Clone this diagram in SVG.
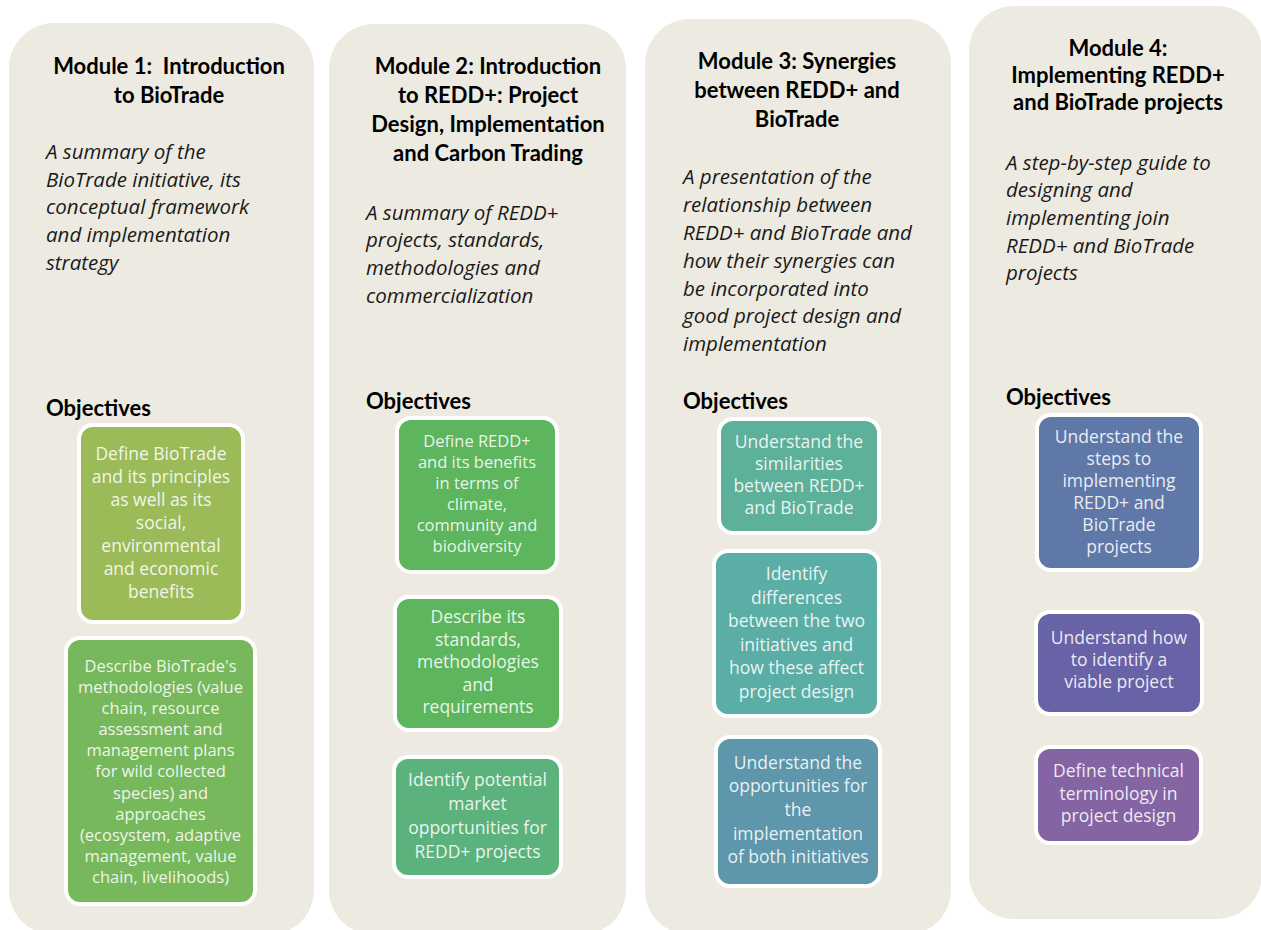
<svg xmlns="http://www.w3.org/2000/svg" width="1261" height="930" viewBox="0 0 1261 930">
<style>
.panel{fill:#EDEBE1;}
.title{font-family:Lato,"Liberation Sans",sans-serif;font-weight:bold;font-size:22px;fill:#000;text-anchor:middle;white-space:pre;}
.desc{font-family:"Open Sans","Liberation Sans",sans-serif;font-style:italic;font-size:20.5px;fill:#1a1a1a;}
.obj{font-family:Lato,"Liberation Sans",sans-serif;font-weight:bold;font-size:22px;fill:#000;}
.box{stroke:#FFFFFF;stroke-width:4;}
.bt{font-family:"Open Sans","Liberation Sans",sans-serif;font-size:17.5px;fill:#FFFFFF;fill-opacity:0.88;text-anchor:middle;}
.sm{font-size:16.5px;}
</style>
<rect width="1261" height="930" fill="#FFFFFF"/>

<g id="module1">
<rect class="panel" x="9" y="23" width="305" height="912" rx="45"/>
<text class="title" x="169" y="74">Module 1:  Introduction</text>
<text class="title" x="169" y="103">to BioTrade</text>
<text class="desc" x="46" y="159">A summary of the</text>
<text class="desc" x="46" y="187">BioTrade initiative, its</text>
<text class="desc" x="46" y="214">conceptual framework</text>
<text class="desc" x="46" y="242">and implementation</text>
<text class="desc" x="46" y="270">strategy</text>
<text class="obj" x="46" y="416">Objectives</text>
</g>
<g id="m1-obj1">
<rect class="box" x="79" y="425" width="164" height="197" rx="14" fill="#9BBB59"/>
<text class="bt" x="161" y="460">Define BioTrade</text>
<text class="bt" x="161" y="483">and its principles</text>
<text class="bt" x="161" y="506">as well as its</text>
<text class="bt" x="161" y="529">social,</text>
<text class="bt" x="161" y="552">environmental</text>
<text class="bt" x="161" y="575">and economic</text>
<text class="bt" x="161" y="598">benefits</text>
</g>
<g id="m1-obj2">
<rect class="box" x="66" y="638" width="189" height="266" rx="14" fill="#78B85C"/>
<text class="bt sm" x="160.5" y="672">Describe BioTrade's</text>
<text class="bt sm" x="160.5" y="693">methodologies (value</text>
<text class="bt sm" x="160.5" y="714">chain, resource</text>
<text class="bt sm" x="160.5" y="735">assessment and</text>
<text class="bt sm" x="160.5" y="756">management plans</text>
<text class="bt sm" x="160.5" y="777">for wild collected</text>
<text class="bt sm" x="160.5" y="799">species) and</text>
<text class="bt sm" x="160.5" y="820">approaches</text>
<text class="bt sm" x="160.5" y="841">(ecosystem, adaptive</text>
<text class="bt sm" x="160.5" y="862">management, value</text>
<text class="bt sm" x="160.5" y="883">chain, livelihoods)</text>
</g>

<g id="module2">
<rect class="panel" x="329" y="24" width="297" height="911" rx="45"/>
<text class="title" x="488" y="74">Module 2: Introduction</text>
<text class="title" x="488" y="103">to REDD+: Project</text>
<text class="title" x="488" y="132">Design, Implementation</text>
<text class="title" x="488" y="161">and Carbon Trading</text>
<text class="desc" x="366" y="220">A summary of REDD+</text>
<text class="desc" x="366" y="247">projects, standards,</text>
<text class="desc" x="366" y="275">methodologies and</text>
<text class="desc" x="366" y="303">commercialization</text>
<text class="obj" x="366" y="409">Objectives</text>
</g>
<g id="m2-obj1">
<rect class="box" x="397" y="418" width="160" height="154" rx="14" fill="#5DB55E"/>
<text class="bt sm" x="477" y="447">Define REDD+</text>
<text class="bt sm" x="477" y="468">and its benefits</text>
<text class="bt sm" x="477" y="489">in terms of</text>
<text class="bt sm" x="477" y="510">climate,</text>
<text class="bt sm" x="477" y="531">community and</text>
<text class="bt sm" x="477" y="552">biodiversity</text>
</g>
<g id="m2-obj2">
<rect class="box" x="395" y="597" width="166" height="133" rx="14" fill="#5DB55E"/>
<text class="bt" x="478" y="623">Describe its</text>
<text class="bt" x="478" y="646">standards,</text>
<text class="bt" x="478" y="668">methodologies</text>
<text class="bt" x="478" y="691">and</text>
<text class="bt" x="478" y="713">requirements</text>
</g>
<g id="m2-obj3">
<rect class="box" x="394" y="757" width="167" height="120" rx="14" fill="#5BB27C"/>
<text class="bt" x="477.5" y="786">Identify potential</text>
<text class="bt" x="477.5" y="810">market</text>
<text class="bt" x="477.5" y="834">opportunities for</text>
<text class="bt" x="477.5" y="858">REDD+ projects</text>
</g>

<g id="module3">
<rect class="panel" x="645" y="19" width="306" height="916" rx="45"/>
<text class="title" x="797" y="69">Module 3: Synergies</text>
<text class="title" x="797" y="98">between REDD+ and</text>
<text class="title" x="797" y="127">BioTrade</text>
<text class="desc" x="683" y="184">A presentation of the</text>
<text class="desc" x="683" y="212">relationship between</text>
<text class="desc" x="683" y="240">REDD+ and BioTrade and</text>
<text class="desc" x="683" y="268">how their synergies can</text>
<text class="desc" x="683" y="296">be incorporated into</text>
<text class="desc" x="683" y="323">good project design and</text>
<text class="desc" x="683" y="351">implementation</text>
<text class="obj" x="683" y="409">Objectives</text>
</g>
<g id="m3-obj1">
<rect class="box" x="719" y="419" width="160" height="114" rx="14" fill="#5DB099"/>
<text class="bt" x="799" y="448">Understand the</text>
<text class="bt" x="799" y="470">similarities</text>
<text class="bt" x="799" y="492">between REDD+</text>
<text class="bt" x="799" y="514">and BioTrade</text>
</g>
<g id="m3-obj2">
<rect class="box" x="714" y="551" width="165" height="165" rx="14" fill="#5BAEA6"/>
<text class="bt" x="796.5" y="580">Identify</text>
<text class="bt" x="796.5" y="604">differences</text>
<text class="bt" x="796.5" y="627">between the two</text>
<text class="bt" x="796.5" y="651">initiatives and</text>
<text class="bt" x="796.5" y="674">how these affect</text>
<text class="bt" x="796.5" y="698">project design</text>
</g>
<g id="m3-obj3">
<rect class="box" x="716" y="737" width="164" height="149" rx="14" fill="#5E96AB"/>
<text class="bt" x="798" y="769">Understand the</text>
<text class="bt" x="798" y="792">opportunities for</text>
<text class="bt" x="798" y="816">the</text>
<text class="bt" x="798" y="840">implementation</text>
<text class="bt" x="798" y="863">of both initiatives</text>
</g>

<g id="module4">
<rect class="panel" x="969" y="6" width="293" height="913" rx="45"/>
<text class="title" x="1118" y="56">Module 4:</text>
<text class="title" x="1118" y="83">Implementing REDD+</text>
<text class="title" x="1118" y="110">and BioTrade projects</text>
<text class="desc" x="1006" y="170">A step-by-step guide to</text>
<text class="desc" x="1006" y="197">designing and</text>
<text class="desc" x="1006" y="225">implementing join</text>
<text class="desc" x="1006" y="253">REDD+ and BioTrade</text>
<text class="desc" x="1006" y="280">projects</text>
<text class="obj" x="1006" y="405">Objectives</text>
</g>
<g id="m4-obj1">
<rect class="box" x="1037" y="415" width="164" height="155" rx="14" fill="#5F78A8"/>
<text class="bt" x="1119" y="443">Understand the</text>
<text class="bt" x="1119" y="465">steps to</text>
<text class="bt" x="1119" y="487">implementing</text>
<text class="bt" x="1119" y="509">REDD+ and</text>
<text class="bt" x="1119" y="531">BioTrade</text>
<text class="bt" x="1119" y="553">projects</text>
</g>
<g id="m4-obj2">
<rect class="box" x="1036" y="612" width="166" height="102" rx="14" fill="#6862A6"/>
<text class="bt" x="1119" y="644">Understand how</text>
<text class="bt" x="1119" y="666">to identify a</text>
<text class="bt" x="1119" y="688">viable project</text>
</g>
<g id="m4-obj3">
<rect class="box" x="1036" y="747" width="165" height="96" rx="14" fill="#8464A3"/>
<text class="bt" x="1118.5" y="777">Define technical</text>
<text class="bt" x="1118.5" y="800">terminology in</text>
<text class="bt" x="1118.5" y="822">project design</text>
</g>
</svg>
